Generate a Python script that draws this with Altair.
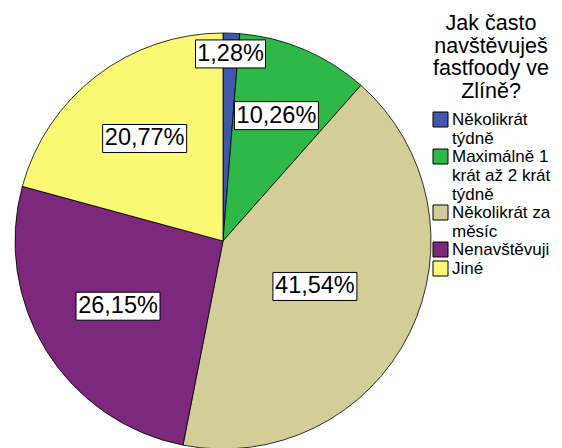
import json
import altair as alt
import pandas as pd

# ---- data ----
categories = [
    "Několikrát týdně",
    "Maximálně 1 krát až 2 krát týdně",
    "Několikrát za měsíc",
    "Nenavštěvuji",
    "Jiné",
]
legend_lines = [
    ["Několikrát", "týdně"],
    ["Maximálně 1", "krát až 2 krát", "týdně"],
    ["Několikrát za", "měsíc"],
    ["Nenavštěvuji"],
    ["Jiné"],
]
percent = [1.28, 10.26, 41.54, 26.15, 20.77]
colors = ["#3E58AC", "#2EB848", "#D3CE97", "#7C287D", "#FBF873"]
title_lines = ["Jak často", "navštěvuješ", "fastfoody ve", "Zlíně?"]

df = pd.DataFrame({"cat": categories, "pct": percent, "idx": list(range(len(categories)))})

# ---- layout ----
W, H = 546, 440
CX, CY, R = 215, 233, 208
FONT = "Liberation Sans"

label_map = json.dumps(dict(zip(categories, legend_lines)), ensure_ascii=False)

base = alt.Chart(df)

pie = base.mark_arc(outerRadius=R, stroke="black", strokeWidth=0.8).encode(
    theta=alt.Theta("pct:Q", stack=True),
    color=alt.Color(
        "cat:N",
        scale=alt.Scale(domain=categories, range=colors),
        legend=alt.Legend(
            orient="none",
            legendX=424,
            legendY=5,
            title=title_lines,
            titleFont=FONT,
            titleFontSize=21.5,
            titleFontWeight="normal",
            titleColor="black",
            titleAlign="center",
            titleAnchor="middle",
            titleLineHeight=22.5,
            titlePadding=9,
            labelFont=FONT,
            labelFontSize=17,
            labelColor="black",
            labelExpr=f"{label_map}[datum.label]",
            labelLimit=220,
            labelOffset=3,
            symbolType="square",
            symbolSize=225,
            symbolStrokeColor="black",
            symbolStrokeWidth=1,
            symbolOpacity=1,
            rowPadding=0,
        ),
    ),
    order=alt.Order("idx:Q"),
    x=alt.value(CX),
    y=alt.value(CY),
)

lab = (
    base.transform_window(cum="sum(pct)", sort=[alt.SortField("idx")], frame=[None, 0])
    .transform_calculate(
        ang="2*PI*(datum.cum - datum.pct/2)/100",
        half="PI*datum.pct/100",
        txt="replace(format(datum.pct, '.2f'), '.', ',') + '%'",
    )
    .transform_calculate(
        rc=f"datum.pct < 5 ? {R*0.9} : 2*{R}*sin(datum.half)/(3*datum.half)"
    )
    .transform_calculate(
        lx=f"{CX} + datum.rc*sin(datum.ang)",
        ly=f"{CY} - datum.rc*cos(datum.ang)",
        hw="length(datum.txt)*7",
    )
    .transform_calculate(
        bx1="datum.lx - datum.hw",
        bx2="datum.lx + datum.hw",
        by1="datum.ly - 14",
        by2="datum.ly + 14",
    )
)

boxes = lab.mark_rect(fill="white", stroke="black", strokeWidth=1).encode(
    x=alt.X("bx1:Q", scale=None, axis=None),
    x2="bx2:Q",
    y=alt.Y("by1:Q", scale=None, axis=None),
    y2="by2:Q",
)

texts = lab.mark_text(font=FONT, fontSize=23.5, baseline="middle", align="center", color="black").encode(
    x=alt.X("lx:Q", scale=None, axis=None),
    y=alt.Y("ly:Q", scale=None, axis=None),
    text="txt:N",
)

chart = (
    alt.layer(pie, boxes, texts)
    .properties(width=W, height=H, autosize=alt.AutoSizeParams(type="none"), padding=0)
    .configure_view(stroke=None)
)

chart.save("out.html", embed_options={"renderer": "svg", "actions": False})
